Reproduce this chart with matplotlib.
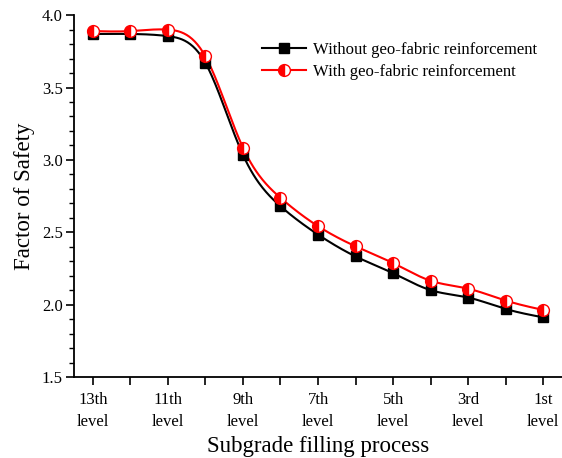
import numpy as np
import matplotlib
matplotlib.use("Agg")
import matplotlib.pyplot as plt
from matplotlib.ticker import MultipleLocator, FixedLocator

plt.rcParams['font.family'] = ['Liberation Serif', 'DejaVu Serif']

levels = ['13th', '12th', '11th', '10th', '9th', '8th', '7th', '6th', '5th', '4th', '3rd', '2nd', '1st']
without_fs = [3.87, 3.87, 3.855, 3.67, 3.035, 2.68, 2.484, 2.333, 2.217, 2.10, 2.049, 1.97, 1.912]
with_fs = [3.89, 3.89, 3.90, 3.715, 3.085, 2.738, 2.542, 2.403, 2.287, 2.165, 2.11, 2.028, 1.963]
tick_labels = ['13th\nlevel', '11th\nlevel', '9th\nlevel', '7th\nlevel', '5th\nlevel', '3rd\nlevel', '1st\nlevel']


def natural_spline(x, y, xn):
    x = np.asarray(x, float); y = np.asarray(y, float)
    n = len(x); h = np.diff(x)
    A = np.zeros((n, n)); b = np.zeros(n)
    A[0, 0] = 1; A[-1, -1] = 1
    for i in range(1, n - 1):
        A[i, i - 1] = h[i - 1]; A[i, i] = 2 * (h[i - 1] + h[i]); A[i, i + 1] = h[i]
        b[i] = 6 * ((y[i + 1] - y[i]) / h[i] - (y[i] - y[i - 1]) / h[i - 1])
    M = np.linalg.solve(A, b)
    idx = np.clip(np.searchsorted(x, xn) - 1, 0, n - 2)
    xi, xi1, hi = x[idx], x[idx + 1], h[idx]
    return (M[idx] * (xi1 - xn) ** 3 / (6 * hi) + M[idx + 1] * (xn - xi) ** 3 / (6 * hi)
            + (y[idx] / hi - M[idx] * hi / 6) * (xi1 - xn)
            + (y[idx + 1] / hi - M[idx + 1] * hi / 6) * (xn - xi))


x = np.arange(1, len(levels) + 1)
xs = np.linspace(1, len(levels), 500)

fig = plt.figure(figsize=(5.62, 4.58), dpi=100)
ax = fig.add_axes([0.1317, 0.1769, 0.8683, 0.79])

ax.plot(xs, natural_spline(x, without_fs, xs), color='black', lw=1.5, zorder=2)
ax.plot(xs, natural_spline(x, with_fs, xs), color='red', lw=1.5, zorder=3)
ax.plot(x, without_fs, 's', color='black', ms=7.5, zorder=4)
ax.plot(x, with_fs, 'o', color='red', mfc='red', mfcalt='white', fillstyle='left',
        mec='red', mew=1.0, ms=8.5, zorder=5)

h1, = ax.plot([], [], '-s', color='black', lw=1.5, ms=7.5)
h2, = ax.plot([], [], '-o', color='red', lw=1.5, mfc='red', mfcalt='white', fillstyle='left',
              mec='red', mew=1.0, ms=8.5)
ax.legend([h1, h2], ['Without geo-fabric reinforcement', 'With geo-fabric reinforcement'],
          loc='upper left', bbox_to_anchor=(0.355, 0.967),
          frameon=False, fontsize=12, handlelength=2.6, handletextpad=0.45, labelspacing=0.35)

ax.set_xlim(0.5, 13.5)
ax.set_ylim(1.5, 4.0)
ax.xaxis.set_major_locator(FixedLocator(x[::2]))
ax.xaxis.set_minor_locator(FixedLocator(x[1::2]))
ax.set_xticklabels(tick_labels, fontsize=12, linespacing=1.5)
ax.yaxis.set_major_locator(MultipleLocator(0.5))
ax.yaxis.set_minor_locator(MultipleLocator(0.1))
ax.tick_params(axis='y', which='major', direction='out', length=6, width=1.2, labelsize=12, pad=2)
ax.tick_params(axis='y', which='minor', direction='out', length=3.5, width=1.0)
ax.tick_params(axis='x', which='both', direction='out', length=6, width=1.2, labelsize=12, pad=5)

for s in ['top', 'right']:
    ax.spines[s].set_visible(False)
for s in ['left', 'bottom']:
    ax.spines[s].set_linewidth(1.3)

ax.set_xlabel('Subgrade filling process', fontsize=16.5, labelpad=4)
ax.set_ylabel('Factor of Safety', fontsize=16.5, labelpad=5)

fig.savefig('out.png', dpi=100)
